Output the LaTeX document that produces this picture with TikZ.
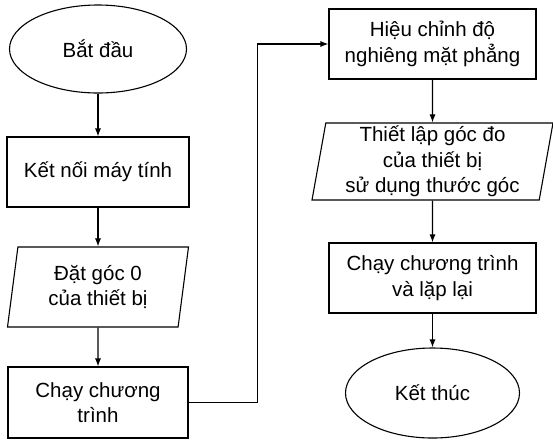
\documentclass[tikz,border=0pt]{standalone}
\usepackage{fontspec}
\setmainfont{Liberation Sans}
\usetikzlibrary{shapes.geometric,arrows.meta}

\tikzset{
	box/.style={draw,rectangle,line width=1.1pt,minimum width=207pt,minimum height=70pt,align=center,inner sep=2pt},
	term/.style={draw,ellipse,line width=1.1pt,align=center,inner sep=0pt},
	io/.style={draw,trapezium,trapezium stretches body=true,line width=1.1pt,align=center,inner sep=0pt},
	arr/.style={line width=1.1pt,-{Latex[length=8pt,width=6pt]}}
}

\begin{document}
\begin{tikzpicture}[x=1pt,y=-1pt,font=\fontsize{20.5}{25.5}\selectfont]
	\useasboundingbox (0,0) rectangle (553,440);
	% left column
	\node[term,minimum width=177pt,minimum height=88pt] (start) at (98,49) {Bắt đầu};
	\node[box,minimum width=182pt] (connect) at (98,172) {Kết nối máy tính};
	\node[io,trapezium left angle=76.6,trapezium right angle=103.4,minimum width=181pt,minimum height=80pt] (zero) at (98,287) {Đặt góc 0\\của thiết bị};
	\node[box,minimum width=180pt,minimum height=71pt] (run) at (98,402.5) {Chạy chương\\trình};
	% right column
	\node[box] (calib) at (432.5,44) {Hiệu chỉnh độ\\nghiêng mặt phẳng};
	\node[io,trapezium left angle=79,trapezium right angle=101,minimum width=241pt,minimum height=77pt] (setup) at (432.5,161.5) {Thiết lập góc đo\\của thiết bị\\sử dụng thước góc};
	\node[box] (loop) at (432.5,278) {Chạy chương trình\\và lặp lại};
	\node[term,minimum width=174pt,minimum height=90pt] (finish) at (432.5,393) {Kết thúc};
	% connectors
	\draw[arr] (start) -- (connect);
	\draw[arr] (connect) -- (zero);
	\draw[arr] (zero) -- (run);
	\draw[arr] (run.east) -- ++(69,0) |- (calib.west);
	\draw[arr] (calib) -- (setup);
	\draw[arr] (setup) -- (loop);
	\draw[arr] (loop) -- (finish);
\end{tikzpicture}
\end{document}
